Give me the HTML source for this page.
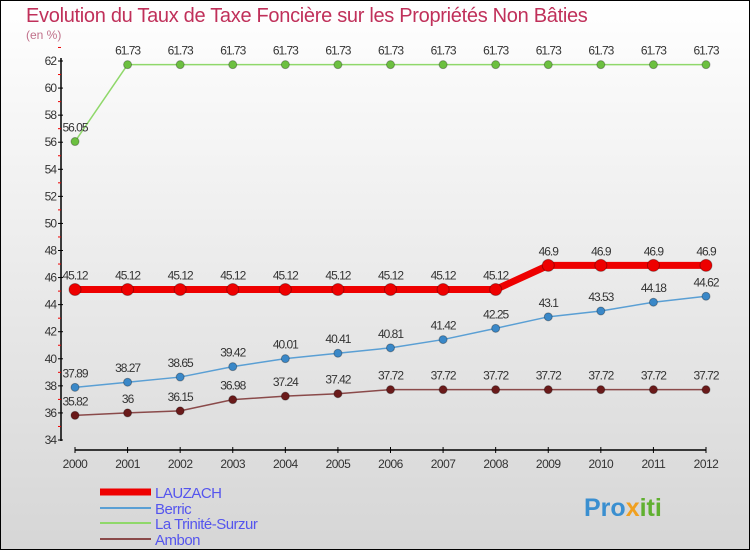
<!DOCTYPE html>
<html><head><meta charset="utf-8"><style>
html,body{margin:0;padding:0}
body{width:750px;height:550px;overflow:hidden;font-family:"Liberation Sans",sans-serif}
</style></head><body>
<svg id="c" width="750" height="550" xmlns="http://www.w3.org/2000/svg">
<defs><linearGradient id="bg" x1="0" y1="0" x2="0" y2="1"><stop offset="0" stop-color="#ffffff"/><stop offset="1" stop-color="#d6d6d6"/></linearGradient></defs>
<rect x="0.5" y="0.5" width="749" height="549" fill="url(#bg)" stroke="#000"/>
<text x="26" y="22" font-size="20" fill="#c0305a" letter-spacing="-0.3">Evolution du Taux de Taxe Foncière sur les Propriétés Non Bâties</text>
<text x="26" y="39" font-size="12" fill="#c0708a">(en %)</text>
<g id="axes"></g><g id="series"></g><g id="legend"></g>
<text x="584" y="516" font-size="25" font-weight="bold" fill="#3a8fd0">Pro<tspan fill="#f0a020">x</tspan><tspan fill="#60b030">iti</tspan></text>
</svg>
<script>
const years=[2000,2001,2002,2003,2004,2005,2006,2007,2008,2009,2010,2011,2012];
const lauzach=[45.12,45.12,45.12,45.12,45.12,45.12,45.12,45.12,45.12,46.9,46.9,46.9,46.9];
const berric=[37.89,38.27,38.65,39.42,40.01,40.41,40.81,41.42,42.25,43.1,43.53,44.18,44.62];
const trinite=[56.05,61.73,61.73,61.73,61.73,61.73,61.73,61.73,61.73,61.73,61.73,61.73,61.73];
const ambon=[35.82,36,36.15,36.98,37.24,37.42,37.72,37.72,37.72,37.72,37.72,37.72,37.72];
const yTicks=[34,36,38,40,42,44,46,48,50,52,54,56,58,60,62];
const names=["LAUZACH","Berric","La Trinité-Surzur","Ambon"];
const NS="http://www.w3.org/2000/svg";
const xS=i=>75+i*(706-75)/(years.length-1);
const yS=v=>440-(v-34)*(440-61)/28;
function mk(p,t,a){const e=document.createElementNS(NS,t);for(const k in a)e.setAttribute(k,a[k]);p.appendChild(e);return e;}
const ax=document.getElementById('axes');
let l=mk(ax,'line',{x1:61,y1:58,x2:61,y2:441,stroke:'#000','stroke-width':1.5});


l=mk(ax,'line',{x1:75,y1:450,x2:706,y2:450,stroke:'#000','stroke-width':1.5});


yTicks.forEach(v=>{const y=yS(v);
mk(ax,'line',{x1:58,y1:y,x2:63,y2:y,stroke:'#000'});
mk(ax,'line',{x1:58,y1:yS(v+1),x2:61,y2:yS(v+1),stroke:'#e00'});
const t=mk(ax,'text',{x:56,y:y+4,'text-anchor':'end','font-size':12,fill:'#333','letter-spacing':'-1'});t.textContent=v;

});
years.forEach((yr,i)=>{const x=xS(i);
mk(ax,'line',{x1:x,y1:447,x2:x,y2:453,stroke:'#000'});
const t=mk(ax,'text',{x:x,y:468,'text-anchor':'middle','font-size':12,fill:'#333','letter-spacing':'-0.5'});t.textContent=yr;

});
const sr=document.getElementById('series');
const defs=[[berric,'#5a9fd4','#3a88c8',1.5,4,'berric'],[trinite,'#8fd86a','#6cc040',1.5,4,'la-trinite-surzur'],[ambon,'#8a4a4a','#6a1a1a',1.5,4,'ambon'],[lauzach,'#ee0000','#ee0000',7,6,'lauzach']];
defs.forEach(([d,lc,pc,w,r,n])=>{
const g=mk(sr,'g',{});


const p=mk(g,'polyline',{points:d.map((v,i)=>xS(i)+','+yS(v)).join(' '),fill:'none',stroke:lc,'stroke-width':w});


d.forEach((v,i)=>{const c=mk(g,'circle',{cx:xS(i),cy:yS(v),r:r,fill:pc,stroke:'rgba(0,0,0,0.3)'});


const t=mk(g,'text',{x:xS(i),y:yS(v)-10,'text-anchor':'middle','font-size':12,fill:'#333','letter-spacing':'-1'});t.textContent=v;

});});
const lg=document.getElementById('legend');
const lcol=['#ee0000','#5a9fd4','#8fd86a','#8a4a4a'],lw=[7,2,2,2],ly=[492,508,523,539];
names.forEach((n,i)=>{const g=mk(lg,'g',{});


mk(g,'line',{x1:100,y1:ly[i],x2:151,y2:ly[i],stroke:lcol[i],'stroke-width':lw[i]});
const t=mk(g,'text',{x:155,y:ly[i]+6,'font-size':15,fill:'#5555ee','letter-spacing':'-0.5'});t.textContent=n;});
</script>
</body></html>
